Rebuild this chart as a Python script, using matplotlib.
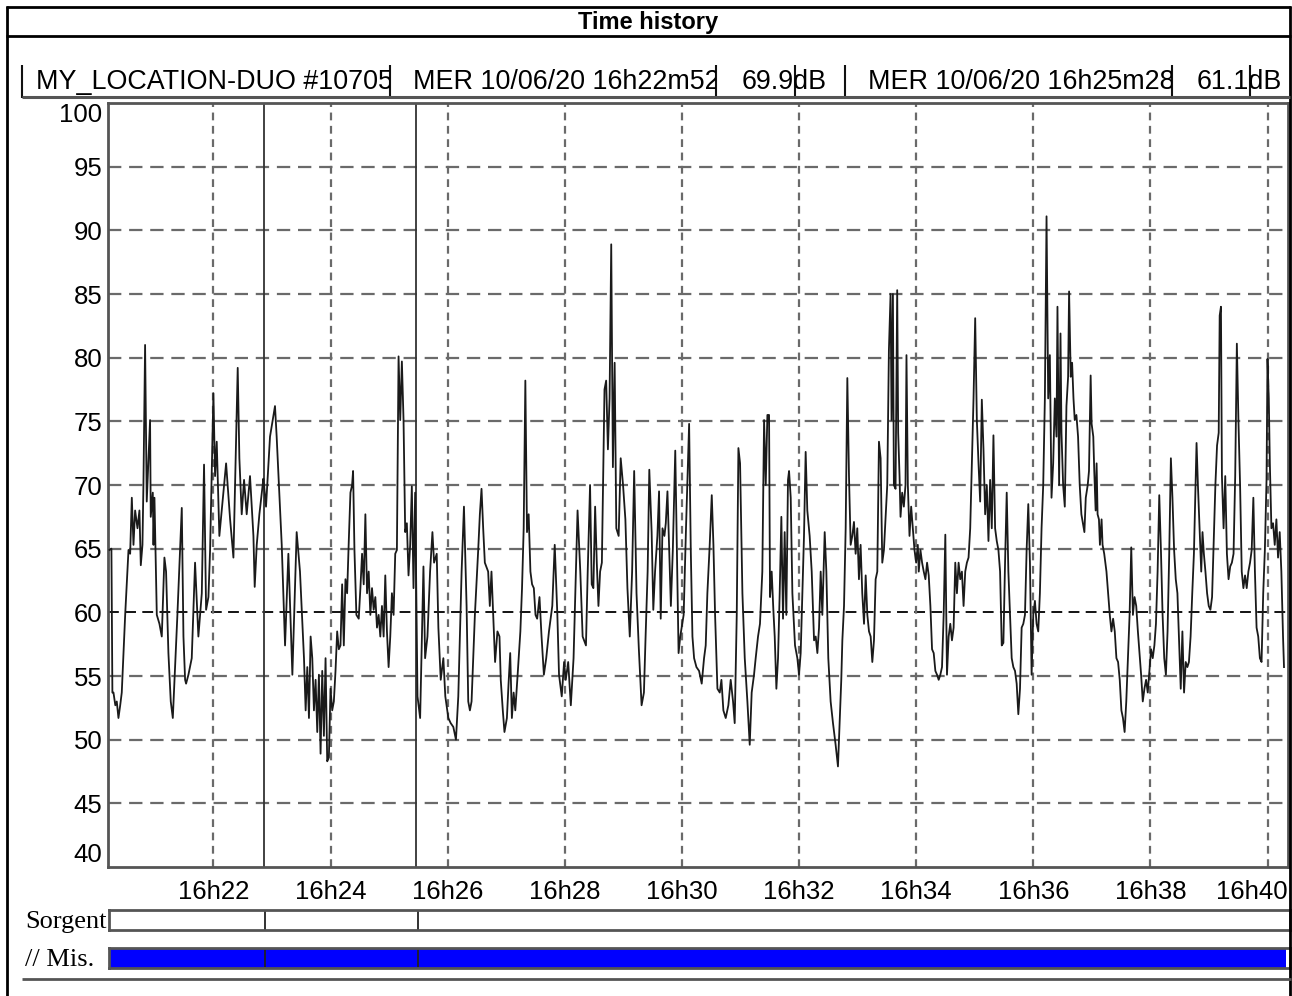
import matplotlib
matplotlib.use("Agg")
import matplotlib.pyplot as plt
from matplotlib.lines import Line2D
from matplotlib.transforms import Bbox, ScaledTranslation

W, H = 1292, 996

# ---------------- data ----------------
title = "Time history"
instrument = "MY_LOCATION-DUO #10705"
cursor_times_s = [172, 328]
cursor_labels = ["MER 10/06/20 16h22m52", "MER 10/06/20 16h25m28"]
cursor_values = ["69.9", "61.1"]
unit = "dB"
row_labels = ["Sorgent", "// Mis."]
x_start_s, x_end_s = 12, 1221
y_min, y_max = 40, 100
y_ticks = [40, 45, 50, 55, 60, 65, 70, 75, 80, 85, 90, 95, 100]
x_ticks_s = [120, 240, 360, 480, 600, 720, 840, 960, 1080, 1200]
x_tick_labels = ["16h22", "16h24", "16h26", "16h28", "16h30",
                 "16h32", "16h34", "16h36", "16h38", "16h40"]

# seconds after 16h20m00
times_s = [
    13.5, 15.5, 16.5, 17.6, 19.5, 21.0, 22.7, 24.5, 26.1, 29.6, 33.0, 34.7, 36.4, 38.1, 39.8, 42.2,
    44.2, 45.6, 47.3, 48.3, 50.0, 51.7, 55.1, 55.8, 57.9, 58.6, 59.6, 62.0, 64.7, 67.1, 69.8, 71.5,
    73.9, 76.3, 78.4, 83.1, 87.6, 89.3, 91.0, 92.0, 94.4, 97.8, 101.2, 104.6, 108.1, 110.4, 112.5,
    114.9, 116.6, 120.0, 121.7, 123.4, 126.1, 133.0, 137.1, 140.5, 144.9, 146.6, 149.0, 151.4,
    154.1, 157.5, 161.0, 162.3, 164.4, 167.1, 171.2, 172.0, 173.9, 178.0, 183.1, 184.8, 190.0,
    193.4, 196.8, 200.9, 205.3, 208.7,
    212.8, 214.5, 216.2, 217.9, 219.6, 221.3, 223.0, 224.7, 226.4, 228.1, 229.8, 231.5, 233.2,
    234.9, 236.6, 238.3, 240.0, 241.7, 243.4, 245.1, 246.8, 248.5, 250.2, 251.9, 253.6, 255.3,
    257.0, 258.7, 260.4, 262.1, 263.1, 264.5, 266.5, 268.9, 270.6, 272.3, 274.0, 275.7, 277.4,
    279.1, 280.8, 282.5, 284.2, 285.9, 287.6, 289.3, 291.0, 292.7, 294.4, 296.1, 297.8, 299.5,
    301.2, 302.9, 304.6, 306.3, 308.0, 309.7, 311.4, 313.1, 314.8, 316.5, 318.2, 319.9, 321.6,
    323.3, 325.0, 326.7, 328.0, 329.1, 331.8, 333.5, 335.2, 336.9, 339.3, 342.0, 344.4, 346.1,
    348.8, 350.5, 352.9, 355.6, 357.6, 360.7, 363.1, 365.8, 368.5, 370.9, 374.3, 376.7, 379.4,
    381.1, 382.8, 384.5, 387.9, 391.3, 393.0, 394.7, 396.4, 398.1, 401.5, 403.2, 404.9,
    408.6, 411.0, 413.1, 414.4, 416.5, 418.2, 420.7, 422.4, 424.1, 425.8, 427.6, 429.3, 431.7,
    434.5, 436.2, 437.9, 439.6, 441.3, 443.0, 444.8, 446.5, 448.3, 450.0, 451.7, 454.1, 456.2,
    458.6, 461.0, 463.8, 467.2, 469.7, 472.4, 474.1, 476.9, 479.3, 481.0, 483.5, 486.2, 489.0,
    491.4, 493.1, 495.9, 498.3, 501.7, 503.5, 505.9, 507.6, 509.3, 511.1, 512.8, 514.5, 516.2,
    518.0, 520.7, 522.4, 524.2, 525.9, 527.6, 529.3, 531.1, 532.8, 535.2, 537.3, 539.7, 542.1,
    544.2, 546.6, 549.0, 551.1, 553.5, 555.9, 558.7, 561.1, 562.8, 564.9, 566.6, 569.0, 570.7,
    572.5, 574.9, 576.6, 578.3, 580.1, 582.1, 583.5, 585.2, 587.0, 588.7, 590.7, 593.2, 594.9,
    596.6, 598.3, 601.8, 604.2,
    607.4, 609.1, 610.8, 612.5, 614.9, 617.6, 620.3, 622.7, 624.4, 626.1, 628.5, 630.6, 632.3,
    634.0, 636.4, 638.8, 640.5, 642.5, 644.9, 647.6, 650.0, 652.4, 654.1, 656.2, 657.9, 659.6,
    662.0, 664.4, 667.1, 669.5, 671.5, 673.9, 675.6, 678.0, 680.0, 682.4, 684.2, 685.9, 687.6,
    689.3, 690.3, 692.0, 693.7, 695.1, 696.8, 698.5, 700.2, 701.9, 703.6, 705.3, 707.0, 708.7,
    709.8, 711.5, 713.2, 715.9, 718.3, 720.0, 721.7, 723.4, 725.1, 726.8, 728.5, 730.9, 733.0,
    735.4, 737.1, 738.8, 740.5, 742.2, 743.9, 746.3, 748.0, 750.0, 752.4, 754.8, 757.5, 759.9,
    761.6, 763.3, 764.4, 766.1, 767.8, 769.5, 771.2, 772.9, 774.6, 776.3, 778.0, 779.7, 781.4,
    783.1, 784.8, 786.6, 788.3, 790.0, 791.7, 793.4, 795.1, 796.8, 798.5, 800.2, 801.9, 803.6,
    805.3, 807.0,
    810.4, 812.1, 813.8, 814.8, 816.2, 817.2, 818.9, 820.6, 821.6, 823.0, 824.0, 825.7, 827.4,
    829.1, 830.1, 831.5, 833.2, 834.9, 836.6, 838.3, 840.0, 841.7, 842.7, 844.4, 846.1, 847.8,
    849.5, 851.2, 852.9, 854.6, 856.3, 858.0, 859.7, 861.4, 863.1, 864.8, 866.5, 868.2, 869.9,
    871.6, 873.3, 875.0, 876.7, 878.4, 880.1, 881.8, 883.5, 885.2, 886.9, 888.6, 890.3, 892.0,
    893.7, 895.4, 897.1, 898.8, 900.5, 902.2, 903.9, 905.6, 907.3, 909.0, 910.7, 912.4, 914.1,
    915.8, 917.5, 919.2, 920.9, 922.6, 924.3, 926.0, 927.7, 929.4, 931.1, 932.8, 934.5, 936.2,
    937.9, 939.6, 941.3, 943.0, 944.7, 946.4, 948.1, 949.8, 951.5, 953.2, 954.9, 956.6, 958.3,
    960.0, 961.7, 963.4, 965.1, 966.8, 968.5, 970.2, 971.9, 973.6, 975.3, 977.0, 978.7, 980.4,
    982.1, 983.8, 984.8, 986.5, 987.9, 988.9, 990.6, 992.3, 994.0, 995.7, 996.7, 998.4, 999.8,
    1001.2, 1002.5, 1004.2, 1005.9, 1007.6, 1009.3,
    1012.4, 1013.8, 1015.8, 1017.1, 1018.8, 1019.8, 1021.5, 1022.5, 1023.9, 1024.9, 1025.9,
    1027.3, 1028.3, 1030.0, 1031.0, 1032.7, 1035.0, 1036.7, 1038.4, 1040.1, 1041.8, 1043.5,
    1045.2, 1046.9, 1048.6, 1050.3, 1051.9, 1053.6, 1055.3, 1057.0, 1058.7, 1060.4, 1062.1,
    1063.8, 1065.5, 1067.2, 1068.8, 1070.5, 1072.2, 1073.9, 1075.6, 1077.3, 1079.0, 1080.7,
    1082.4, 1084.1, 1085.7, 1087.4, 1089.1, 1090.8, 1092.5, 1094.2, 1095.9, 1097.6, 1099.3,
    1101.0, 1102.6, 1104.3, 1106.0, 1107.7, 1109.4, 1111.1, 1112.8, 1114.5, 1116.2, 1117.9,
    1119.5, 1121.2, 1122.9, 1124.6, 1126.3, 1127.3, 1128.7, 1130.4, 1132.1, 1133.4, 1134.8,
    1136.4, 1138.1, 1139.8, 1141.5, 1143.2, 1144.9, 1146.6, 1148.3, 1150.0, 1151.0, 1152.3,
    1153.3, 1155.0, 1156.7, 1158.4, 1160.1, 1161.8, 1163.5, 1165.2, 1166.9, 1168.6, 1170.2,
    1171.9, 1173.6, 1175.3, 1177.0, 1178.7, 1180.4, 1182.1, 1183.8, 1185.5, 1187.1, 1188.8,
    1190.5, 1192.2, 1193.9, 1195.6, 1197.3, 1199.0, 1200.0, 1201.3, 1202.4, 1204.0, 1205.7,
    1207.4, 1209.1, 1210.8, 1212.5, 1214.2, 1215.9, 1216.9,
]

levels_db = [
    64.9, 65.0, 53.7, 53.7, 52.7, 53.0, 51.7, 52.7, 53.7, 59.8, 64.9, 64.6, 69.0, 65.3, 68.0, 66.6,
    68.0, 63.7, 65.3, 70.0, 81.0, 68.7, 75.1, 67.5, 69.4, 65.3, 69.0, 59.8, 59.1, 58.1, 64.3, 63.2,
    56.8, 53.0, 51.7, 59.8, 68.2, 58.1, 54.7, 54.4, 55.1, 56.4, 63.9, 58.1, 61.5, 71.6, 60.2,
    61.2, 64.9, 77.2, 70.7, 73.4, 66.0, 71.7, 67.3, 64.3, 79.2, 72.1, 67.7, 70.4,
    67.7, 70.7, 66.0, 62.0, 65.3, 67.7, 70.5, 69.9, 68.3, 73.8, 76.2, 73.8, 65.3,
    57.4, 64.6, 55.1, 66.3, 63.2,
    56.4, 52.3, 55.7, 51.7, 58.1, 56.4, 52.3, 54.7, 50.6, 55.1, 48.9, 55.4, 50.3,
    56.4, 48.3, 48.6, 54.0, 52.3, 53.0, 55.4, 58.5, 57.1, 57.4, 62.2, 57.4, 62.6,
    61.5, 65.6, 69.4, 70.0, 71.1, 64.9, 59.8, 59.5, 61.9, 64.6, 62.2, 67.7, 61.5,
    63.2, 59.8, 61.9, 60.2, 61.2, 58.8, 59.8, 58.1, 60.5, 58.1, 62.9, 58.5, 55.7,
    58.1, 61.5, 59.8, 64.6, 64.9, 80.1, 75.1, 79.7, 75.1, 66.3, 67.0, 62.9, 65.3,
    69.9, 61.9, 69.4, 61.1, 53.4, 51.7, 57.8, 63.6, 56.4, 58.1, 63.2, 66.3, 63.9,
    64.6, 58.8, 54.7, 56.4, 53.4, 51.7, 51.3, 51.0, 50.0, 53.4, 63.2, 68.3, 60.5,
    53.0, 52.3, 53.0, 59.8, 64.9, 67.7, 69.7, 66.6, 63.9, 63.2, 60.5, 63.2,
    56.1, 58.5, 58.1, 54.7, 52.3, 50.6, 51.7, 54.4, 56.8, 51.7, 53.7, 52.3, 55.1,
    58.5, 61.9, 66.6, 78.2, 66.3, 67.7, 63.2, 62.2, 61.9, 59.8, 59.5, 61.2, 58.1,
    55.1, 56.4, 58.5, 60.5, 65.3, 59.8, 55.1, 53.4, 56.1, 54.7, 56.1, 52.7, 56.4,
    63.2, 68.0, 63.2, 58.1, 57.4, 63.2, 70.0, 62.2, 61.9, 68.3, 63.9, 60.5, 63.2,
    63.9, 77.5, 78.2, 72.8, 76.8, 88.9, 71.4, 79.6, 66.6, 66.0, 72.1, 70.0, 67.3,
    61.9, 58.1, 63.2, 71.1, 61.5, 57.1, 52.7, 53.7, 58.1, 63.2, 71.2, 66.3, 60.2,
    63.2, 66.0, 69.5, 59.5, 66.6, 66.0, 67.0, 69.5, 64.9, 60.5, 64.9, 72.7, 64.6,
    56.8, 58.1, 59.8, 66.6,
    74.8, 64.9, 58.1, 56.4, 55.7, 55.4, 54.4, 56.4, 57.4, 61.5, 65.3, 69.2, 65.3,
    59.8, 54.0, 53.7, 54.7, 52.3, 51.7, 52.7, 54.7, 53.0, 51.3, 59.8, 72.9, 71.7,
    61.5, 56.4, 53.0, 49.6, 53.7, 55.1, 56.4, 58.1, 59.1, 63.2, 75.1, 70.0, 75.5,
    75.5, 61.2, 63.2, 60.2, 58.1, 54.0, 56.4, 61.5, 67.5, 59.5, 66.3, 59.8, 70.4,
    71.1, 69.0, 61.5, 57.4, 56.4, 55.1, 56.8, 61.5, 66.0, 72.6, 68.0, 66.0, 63.2,
    57.8, 58.1, 56.8, 58.8, 63.2, 59.8, 66.3, 63.2, 56.4, 53.0, 51.3, 49.6, 47.9,
    51.3, 54.7, 57.8, 60.5, 66.6, 78.4, 70.7, 65.3, 66.0, 67.1, 64.6, 66.6, 62.6,
    65.3, 61.5, 59.1, 62.9, 59.8, 58.5, 58.1, 56.1, 57.8, 62.6, 63.2, 73.4, 72.1,
    63.9, 64.9,
    70.0, 80.6, 85.0, 75.1, 85.0, 70.0, 69.7, 85.3, 74.1, 70.7, 67.5, 69.4, 68.3,
    70.0, 80.2, 70.0, 66.0, 68.3, 66.6, 64.9, 63.9, 65.3, 63.2, 64.9, 63.9, 63.2,
    62.6, 63.9, 62.9, 60.5, 57.1, 56.8, 55.4, 55.1, 54.7, 55.1, 55.7, 59.8, 66.1,
    55.1, 58.1, 59.1, 57.8, 58.8, 63.9, 61.5, 63.9, 62.6, 63.2, 60.5, 63.2, 63.9,
    64.3, 66.6, 71.7, 76.8, 83.1, 75.1, 71.7, 68.7, 76.7, 72.8, 67.7, 70.0, 65.6,
    70.4, 66.6, 73.9, 66.6, 65.6, 64.9, 63.2, 57.4, 57.6, 63.9, 69.4, 63.2, 59.8,
    56.4, 55.7, 55.4, 54.4, 52.0, 54.0, 58.8, 59.1, 59.8, 64.9, 68.5, 63.9, 55.1,
    59.8, 60.9, 59.1, 58.5, 61.5, 66.6, 70.0, 76.8, 91.1, 76.8, 80.2, 69.0, 71.7,
    76.8, 73.8, 84.0, 70.0, 81.9, 74.1, 70.0, 68.3, 76.2, 78.5, 85.2, 78.5, 79.6,
    76.8, 75.1, 75.5, 73.8, 70.0, 67.7,
    66.3, 69.0, 70.0, 71.1, 78.6, 74.8, 73.8, 71.1, 68.0, 71.7, 67.7,
    67.3, 65.3, 67.3, 65.3, 64.6, 63.2, 61.5, 59.8, 58.5, 59.5, 58.5,
    56.4, 56.1, 54.7, 52.3, 51.7, 50.6, 53.0, 56.4, 59.8, 65.1, 59.8,
    61.2, 60.5, 58.5, 56.8, 55.1, 53.0, 54.0, 54.7, 53.7, 55.4, 57.1,
    56.4, 57.4, 59.1, 63.2, 69.2, 64.9, 59.8, 56.4, 55.1, 58.5, 64.6,
    72.1, 69.0, 64.9, 62.6, 61.5, 57.8, 54.0, 58.5, 53.7, 56.1, 55.7,
    56.1, 58.1, 61.5, 64.6, 70.0, 73.3, 70.0, 66.6, 63.2, 66.3, 64.6,
    63.2, 61.5, 60.5, 60.2, 61.2, 65.6, 70.0, 73.1, 74.1, 83.3, 84.0,
    70.7, 66.6, 70.7, 64.6, 62.6, 63.6, 63.9, 64.6, 70.7, 81.1, 75.1,
    70.0, 63.2, 61.9, 62.9, 61.9, 63.2, 63.9, 64.9, 69.0, 63.2, 58.8,
    58.1, 56.4, 56.1, 61.5, 64.9, 70.4, 79.9, 76.8, 71.7, 66.6, 67.0,
    65.3, 67.3, 64.3, 66.3, 63.2, 58.1, 55.7,
]

# ---------------- layout helpers (pixel geometry) ----------------
fig = plt.figure(figsize=(W / 100, H / 100), dpi=100)
fig.patch.set_facecolor("white")
SANS = ["Liberation Sans", "DejaVu Sans"]
SERIF = ["Liberation Serif", "DejaVu Serif"]


def fx(px):
    return px / W


def fy(py):
    return 1 - py / H


def hline(x0, x1, y, color="black", lw=1.5):
    fig.add_artist(Line2D([fx(x0), fx(x1)], [fy(y), fy(y)], transform=fig.transFigure,
                          color=color, lw=lw, solid_capstyle="butt"))


def vline(x, y0, y1, color="black", lw=1.5):
    fig.add_artist(Line2D([fx(x), fx(x)], [fy(y0), fy(y1)], transform=fig.transFigure,
                          color=color, lw=lw, solid_capstyle="butt"))


def clipped_text(x, y, s, cx0, cx1, cy0, cy1, **kw):
    t = fig.text(fx(x), fy(y), s, **kw)
    t.set_clip_box(Bbox.from_extents(cx0, H - cy1, cx1, H - cy0))
    t.set_clip_on(True)
    return t


def ax_rect(x0, x1, y0, y1):
    return [fx(x0), fy(y1), fx(x1) - fx(x0), fy(y0) - fy(y1)]


# ---------------- outer frame & title ----------------
hline(6, 1291, 7, lw=2)
vline(7, 6, 996, lw=2)
vline(1290, 6, 996, lw=2)
hline(6, 1291, 36, lw=2)
fig.text(fx(648), fy(22), title, ha="center", va="center", fontsize=17,
         fontweight="bold", family=SANS)
hline(22, 1291, 979, color="#555555", lw=2)

# ---------------- header boxes ----------------
HY0, HY1 = 65, 98
dividers = [22, 390, 716, 795, 845, 1172, 1250]
for xd in dividers:
    vline(xd, HY0, HY1, color="#111111", lw=1.5)
hline(22, 1290, HY1 - 1, color="#555555", lw=2.2)
hfs = 19.4
hy = 82
clipped_text(36, hy, instrument, 22, 390, HY0, HY1, ha="left", va="center",
             fontsize=hfs, family=SANS)
clipped_text(413, hy, cursor_labels[0], 390, 716, HY0, HY1, ha="left", va="center",
             fontsize=hfs, family=SANS)
clipped_text(742, hy, cursor_values[0] + unit, 716, 845, HY0, HY1, ha="left", va="center",
             fontsize=hfs, family=SANS)
clipped_text(868, hy, cursor_labels[1], 845, 1172, HY0, HY1, ha="left", va="center",
             fontsize=hfs, family=SANS)
clipped_text(1197, hy, cursor_values[1] + unit, 1172, 1290, HY0, HY1, ha="left", va="center",
             fontsize=hfs, family=SANS)

# ---------------- main plot ----------------
TICK_FS = 18.5
XPAD = 9
ax = fig.add_axes(ax_rect(108, 1288, 103, 867))
ax.set_xlim(x_start_s, x_end_s)
ax.set_ylim(y_min, y_max)
ax.set_yticks(y_ticks)
ax.set_xticks(x_ticks_s)
ax.tick_params(length=0, labelsize=TICK_FS)
ax.tick_params(axis="x", pad=XPAD)
ax.tick_params(axis="y", pad=4)
ax.set_yticklabels([str(v) for v in y_ticks], family=SANS)
ax.set_xticklabels(x_tick_labels[:-1] + [""], family=SANS)
ylabels = ax.get_yticklabels()
ylabels[0].set_va("bottom")
ylabels[-1].set_va("top")
ax.text(1.0, 0.0, x_tick_labels[-1], ha="right", va="top", fontsize=TICK_FS, family=SANS,
        transform=ax.transAxes + ScaledTranslation(0, -XPAD / 72, fig.dpi_scale_trans))

for yv in y_ticks[1:-1]:
    ax.axhline(yv, color="black" if yv == 60 else "#6a6a6a", lw=1.6 if yv != 60 else 1.3,
               dashes=(6, 3.5), zorder=1)
for xv in x_ticks_s:
    ax.axvline(xv, color="#6a6a6a", lw=1.6, dashes=(3.5, 2.5), zorder=1)
for ct in cursor_times_s:
    ax.axvline(ct, color="#333333", lw=1.3, zorder=2)

ax.plot(times_s, levels_db, color="#1a1a1a", lw=1.3, zorder=3)
for sp in ax.spines.values():
    sp.set_color("#555555")
    sp.set_linewidth(2)

# ---------------- lower bands ----------------
for i, (yy0, yy1) in enumerate([(910, 930), (948, 968)]):
    band = fig.add_axes(ax_rect(109, 1290, yy0, yy1))
    band.set_xlim(x_start_s, x_end_s)
    band.set_ylim(0, 1)
    band.set_xticks([])
    band.set_yticks([])
    if i == 1:
        band.axvspan(times_s[0], times_s[-1], color="#0000ff", lw=0)
    for ct in cursor_times_s:
        band.axvline(ct, color="#222222", lw=1.3)
    for sp in band.spines.values():
        sp.set_color("#555555")
        sp.set_linewidth(2)
    fig.text(fx(25), fy((yy0 + yy1) / 2 + 2), row_labels[i], ha="left", va="center",
             fontsize=19, family=SERIF)

fig.savefig("out.png", dpi=100)
